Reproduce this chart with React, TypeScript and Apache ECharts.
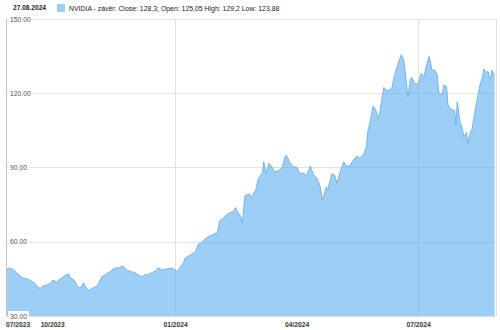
import React, { useEffect, useRef } from 'react';
import * as echarts from 'echarts';

const headerDate = '27.08.2024';
const seriesName = 'NVIDIA - závěr: Close: 128,3; Open: 125,05 High: 129,2 Low: 123,88';

// first day shown and length of the time window (days)
const startYMD = [2023, 7, 27];
const spanDays = 367;

// day offsets from the start date, and closing prices
const dayOffsets = [
  0, 2, 5, 8, 10, 13, 16, 19, 22, 24, 26, 28, 31, 34, 35, 38, 40, 42, 45, 47,
  48, 51, 53, 55, 57, 58, 60, 62, 64, 67, 69, 70, 72, 75, 78, 80, 82, 85, 87, 89,
  91, 94, 97, 99, 102, 104, 106, 108, 112, 114, 117, 120, 123, 125, 128, 130, 133, 134, 138, 142,
  144, 146, 149, 153, 155, 157, 158, 160, 163, 164, 167, 170, 172, 173, 176, 177, 179, 182, 184, 187,
  189, 192, 193, 194, 195, 197, 199, 201, 204, 207, 209, 210, 213, 215, 218, 220, 223, 225, 228, 230,
  232, 234, 235, 237, 240, 241, 244, 246, 248, 250, 253, 255, 258, 260, 263, 265, 268, 270, 271, 273,
  275, 277, 279, 280, 281, 283, 285, 288, 289, 291, 293, 294, 296, 298, 299, 301, 303, 304, 306, 308,
  309, 311, 313, 315, 317, 319, 321, 323, 324, 326, 327, 328, 330, 331, 334, 336, 337, 338, 340, 341,
  343, 345, 346, 348, 349, 351, 353, 355, 357, 358, 359, 361, 363, 364, 365, 366,
];
const closes = [
  48.5, 49.4, 49.0, 47.5, 46.3, 45.3, 45.0, 44.1, 43.0, 41.5, 41.2, 42.2, 42.6, 43.6, 44.5, 43.6, 44.8, 45.4, 46.6, 47.0,
  45.5, 44.5, 42.5, 41.4, 42.0, 43.4, 41.5, 40.2, 41.0, 41.8, 42.6, 44.0, 45.9, 47.0, 47.9, 48.9, 49.4, 49.5, 50.2, 49.4,
  48.4, 47.9, 47.4, 46.6, 45.9, 46.8, 46.5, 47.2, 48.2, 49.5, 48.6, 49.0, 49.2, 49.3, 47.9, 49.3, 51.5, 53.3, 54.6, 56.0,
  59.0, 59.3, 61.1, 62.5, 62.8, 63.6, 62.9, 68.4, 69.6, 70.3, 71.5, 72.1, 73.8, 72.4, 70.1, 67.4, 78.6, 79.2, 78.2, 80.9,
  85.6, 87.7, 92.3, 89.7, 87.7, 91.7, 90.3, 88.3, 88.6, 90.3, 94.4, 95.0, 91.7, 90.3, 90.0, 87.5, 87.8, 86.6, 90.6, 87.4,
  86.3, 84.3, 82.9, 76.9, 82.2, 80.9, 87.4, 87.0, 83.6, 87.7, 92.3, 90.3, 91.0, 93.0, 94.6, 93.7, 95.5, 98.4, 104.5, 109.2,
  114.8, 113.2, 109.9, 112.5, 115.9, 122.4, 121.0, 121.6, 122.0, 127.4, 130.7, 132.5, 135.5, 133.4, 128.7, 118.6, 126.0, 126.3, 124.0, 123.6,
  124.4, 128.0, 126.7, 131.4, 134.8, 129.4, 129.4, 127.4, 120.6, 119.3, 120.6, 123.3, 122.6, 115.3, 113.2, 113.2, 107.2, 116.6, 108.5, 107.2,
  102.4, 104.2, 99.8, 104.7, 105.2, 111.9, 117.9, 123.3, 126.7, 129.8, 128.5, 128.7, 125.3, 129.4, 127.7, 128.3,
];

// x-axis labels and the dates they sit on
const xTickDates = [[2023, 7, 27], [2023, 9, 1], [2024, 0, 1], [2024, 3, 1], [2024, 6, 1]];
const xTickLabels = ['07/2023', '10/2023', '01/2024', '04/2024', '07/2024'];
// vertical grid lines
const xGridDates = [[2023, 7, 27], [2024, 0, 1], [2024, 6, 1], [2024, 7, 28]];

const yMin = 30;
const yMax = 150;
const yStep = 30;

const DAY = 86400000;
const FONT = "'Liberation Sans', Arial, sans-serif";

const utc = (d: number[]) => Date.UTC(d[0], d[1], d[2]);
const dayOf = (d: number[]) => Math.round((utc(d) - utc(startYMD)) / DAY);

export default function App() {
  const ref = useRef<HTMLDivElement>(null);
  useEffect(() => {
    if (!ref.current) return;
    document.body.style.margin = '0';
    const chart = echarts.init(ref.current, null, { renderer: 'svg' });
    const data = dayOffsets.map((d, i) => [d, closes[i]]);
    const tickDays = xTickDates.map(dayOf);
    const labelMap = new Map<number, string>();
    tickDays.forEach((t, i) => labelMap.set(t, xTickLabels[i]));

    chart.setOption({
      animation: false,
      title: {
        text: headerDate,
        left: 13,
        top: 4,
        padding: 0,
        textStyle: { fontFamily: FONT, fontSize: 6.6, fontWeight: 'bold', color: '#222' },
      },
      legend: {
        left: 57,
        top: 4,
        padding: 0,
        icon: 'rect',
        itemWidth: 8,
        itemHeight: 8,
        itemGap: 4,
        data: [{ name: seriesName, itemStyle: { color: '#9dcff6' } }],
        textStyle: { fontFamily: FONT, fontSize: 6.9, color: '#222', padding: [0, 0, 0, -1] },
      },
      grid: { left: 6, right: 4, top: 19, bottom: 14, containLabel: false },
      xAxis: {
        type: 'value',
        min: 0,
        max: spanDays,
        axisLine: { show: false },
        axisTick: { show: false, customValues: xGridDates.map(dayOf) },
        splitLine: { show: true, lineStyle: { color: '#e2e2e2', width: 1 } },
        axisLabel: {
          customValues: tickDays,
          formatter: (v: number) => labelMap.get(v) ?? '',
          alignMinLabel: 'left',
          margin: 5,
          fontFamily: FONT,
          fontSize: 6.7,
          fontWeight: 'bold',
          color: '#333',
        },
      },
      yAxis: {
        type: 'value',
        min: yMin,
        max: yMax,
        interval: yStep,
        axisLine: { show: true, lineStyle: { color: '#c4c4c4' } },
        axisTick: { show: false },
        splitLine: { show: true, lineStyle: { color: '#e2e2e2', width: 1 } },
        axisLabel: {
          inside: true,
          margin: 2,
          formatter: (v: number) => v.toFixed(2),
          fontFamily: FONT,
          fontSize: 6.8,
          color: '#555',
          backgroundColor: '#fff',
          padding: [0, 2, 3, 2],
        },
        z: 3,
      },
      series: [
        {
          name: seriesName,
          type: 'line',
          data,
          showSymbol: false,
          symbol: 'none',
          lineStyle: { color: '#74b4ec', width: 1 },
          itemStyle: { color: '#74b4ec' },
          areaStyle: { color: 'rgb(92,175,240)', opacity: 0.6 },
        },
      ],
    });
    return () => chart.dispose();
  }, []);
  return <div ref={ref} style={{ width: 500, height: 330 }} />;
}
